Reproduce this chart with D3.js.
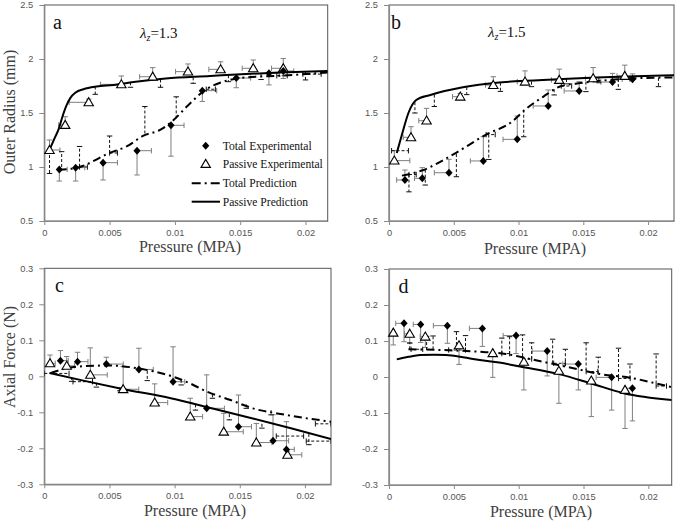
<!DOCTYPE html>
<html><head><meta charset="utf-8">
<script src="https://cdn.jsdelivr.net/npm/d3@7"></script>
<style>body{margin:0;background:#fff} svg{display:block}</style>
</head><body>
<svg id="chart" width="675" height="524"></svg>
<script>
// ---------------- tick labels ----------------
const xTickVals = [0, 0.005, 0.01, 0.015, 0.02];
const xTickLabels = ["0", "0.005", "0.01", "0.015", "0.02"];
const radiusTickVals = [0.5, 1, 1.5, 2, 2.5];
const radiusTickLabels = ["0.5", "1", "1.5", "2", "2.5"];
const forceTickVals = [-0.3, -0.2, -0.1, 0, 0.1, 0.2, 0.3];
const forceTickLabels = ["-0.3", "-0.2", "-0.1", "0", "0.1", "0.2", "0.3"];
const legendLabels = ["Total Experimental", "Passive Experimental", "Total Prediction", "Passive Prediction"];

// ---------------- panel a (outer radius, λz=1.3) ----------------
const aTotExpX = [0.00115, 0.0024, 0.0045, 0.0071, 0.0097, 0.0121, 0.0147, 0.0172, 0.0183];
const aTotExpY = [0.978, 0.994, 1.04, 1.151, 1.386, 1.707, 1.824, 1.867, 1.889];
const aTotExpErrY = [-0.108, -0.124, -0.16, -0.225, -0.286, -0.10, -0.09, -0.107, -0.07];
const aTotExpErrX = [0.0006, 0.0007, 0.0011, 0.0011, 0.001, 0.0011, 0.0011, 0.0008, 0.0008];
const aPasExpX = [0.0004, 0.0016, 0.0034, 0.0059, 0.0083, 0.011, 0.0135, 0.016, 0.0183];
const aPasExpY = [1.157, 1.389, 1.599, 1.765, 1.836, 1.883, 1.904, 1.914, 1.914];
const aPasExpErrY = [0.093, 0.077, 0.03, 0.078, 0.084, 0.071, 0.07, 0.077, 0.09];
const aPasExpErrX = [0.0008, -0.0005, -0.0015, -0.0016, -0.001, -0.00095, -0.0009, -0.00085, -0.0009];
const aTotPredX = [0.0011, 0.0027, 0.005, 0.0063, 0.0076, 0.0089, 0.0099, 0.011, 0.0124, 0.0137, 0.0155, 0.018, 0.0217];
const aTotPredY = [0.972, 1.0, 1.13, 1.19, 1.29, 1.345, 1.435, 1.57, 1.72, 1.79, 1.83, 1.845, 1.875];
const aPasPredX = [0.0004, 0.0008, 0.0011, 0.0014, 0.0017, 0.002, 0.0024, 0.003, 0.004, 0.0053, 0.007, 0.0093, 0.0127, 0.0147, 0.018, 0.0217];
const aPasPredY = [1.16, 1.27, 1.35, 1.47, 1.57, 1.64, 1.69, 1.72, 1.745, 1.76, 1.79, 1.82, 1.843, 1.857, 1.875, 1.89];
const aPredBarsV = [[0.0004, 1.157, 0.94], [0.00133, 1.0, 1.142], [0.0027, 1.003, 1.19], [0.005, 1.13, 1.287],
  [0.0077, 1.31, 1.56], [0.0101, 1.45, 1.65], [0.0039, 1.745, 1.673], [0.0066, 1.785, 1.738],
  [0.0089, 1.81, 1.738], [0.0114, 1.83, 1.775], [0.0141, 1.85, 1.79], [0.0166, 1.86, 1.81], [0.02, 1.88, 1.806]];
const aPredBarsH = [[1.0, 0.0027, 0.0033], [1.13, 0.005, 0.0056], [1.72, 0.0124, 0.0131], [1.845, 0.0178, 0.0186], [1.86, 0.0198, 0.0212]];

// ---------------- panel b (outer radius, λz=1.5) ----------------
const bTotExpX = [0.00123, 0.00257, 0.00463, 0.00728, 0.0099, 0.01229, 0.01468, 0.01725, 0.0188];
const bTotExpY = [0.88, 0.895, 0.947, 1.056, 1.256, 1.565, 1.704, 1.787, 1.812];
const bTotExpErrY = [0.092, 0.099, 0.124, 0.225, 0.216, 0.148, 0.086, 0.08, 0.05];
const bTotExpErrX = [-0.00064, -0.0006, -0.00113, -0.001, -0.0011, -0.00116, -0.00116, -0.0009, -0.0008];
const bPasExpX = [0.00041, 0.0017, 0.0029, 0.0055, 0.00805, 0.0105, 0.01314, 0.01576, 0.0182];
const bPasExpY = [1.059, 1.275, 1.429, 1.651, 1.759, 1.79, 1.806, 1.821, 1.843];
const bPasExpErrY = [0.092, 0.098, 0.114, 0.03, 0.077, 0.1, 0.1, 0.1, 0.1];
const bPasExpErrX = [0.0012, -0.0006, -0.0006, -0.0006, -0.0006, -0.0006, -0.0006, -0.0006, -0.0006];
const bTotPredX = [0.001, 0.0026, 0.005, 0.0075, 0.0095, 0.0105, 0.0119, 0.0133, 0.015, 0.018, 0.022];
const bTotPredY = [0.92, 0.97, 1.12, 1.3, 1.42, 1.53, 1.65, 1.75, 1.78, 1.815, 1.83];
const bPasPredX = [0.0006, 0.001, 0.0015, 0.0021, 0.0032, 0.0057, 0.0083, 0.0101, 0.0134, 0.016, 0.019, 0.022];
const bPasPredY = [1.13, 1.3, 1.5, 1.62, 1.667, 1.738, 1.781, 1.796, 1.815, 1.828, 1.84, 1.85];
const bPredBarsV = [[0.00154, 0.93, 0.77], [0.0028, 0.975, 0.833], [0.0052, 1.12, 0.91], [0.0077, 1.3, 1.07],
  [0.0104, 1.53, 1.28], [0.01275, 1.72, 1.667], [0.0152, 1.79, 1.698], [0.0177, 1.815, 1.719], [0.0208, 1.825, 1.744],
  [0.002, 1.6, 1.5], [0.0035, 1.67, 1.56], [0.006, 1.74, 1.67], [0.0086, 1.78, 1.7], [0.011, 1.79, 1.744],
  [0.0137, 1.815, 1.77], [0.0162, 1.828, 1.78]];
const bPredBarsH = [[1.151, 0.0002, 0.0015], [0.93, 0.00154, 0.0021], [1.3, 0.0075, 0.0082], [1.75, 0.0133, 0.0141], [1.815, 0.0177, 0.0186]];

// ---------------- panel c (axial force, λz=1.3) ----------------
const cTotExpX = [0.00124, 0.00255, 0.00476, 0.00726, 0.00988, 0.01246, 0.0149, 0.01755, 0.01858];
const cTotExpY = [0.0435, 0.0407, 0.034, 0.019, -0.015, -0.089, -0.14, -0.179, -0.203];
const cTotExpErrY = [0.028, 0.026, 0.019, 0.059, 0.097, 0.093, 0.088, 0.072, 0.077];
const cTotExpErrX = [0.0006, 0.0008, 0.0013, 0.0011, 0.0009, 0.00136, 0.001, 0.0012, 0.0006];
const cPasExpX = [0.00044, 0.00172, 0.00353, 0.00605, 0.00847, 0.0112, 0.01377, 0.01627, 0.01866];
const cPasExpY = [0.036, 0.029, 0.004, -0.036, -0.073, -0.112, -0.154, -0.184, -0.218];
const cPasExpErrY = [0.023, 0.026, 0.075, 0.063, 0.052, 0.051, 0.051, 0.053, 0.01];
const cPasExpErrX = [0.0004, 0.0006, 0.0013, 0.0012, 0.001, 0.00095, 0.0015, 0.0012, 0.0011];
const cTotPredX = [0.0005, 0.0025, 0.005, 0.0075, 0.0098, 0.0112, 0.0125, 0.0143, 0.016, 0.0185, 0.022];
const cTotPredY = [0.009, 0.027, 0.03, 0.02, 0.0, -0.02, -0.043, -0.066, -0.089, -0.107, -0.126];
const cPasPredX = [0.0004, 0.003, 0.006, 0.0097, 0.013, 0.016, 0.019, 0.022];
const cPasPredY = [0.009, -0.012, -0.035, -0.061, -0.09, -0.117, -0.145, -0.174];
const cPredBarsV = [[0.0021, -0.002, -0.014], [0.004, -0.018, -0.03], [0.0058, -0.03, -0.04], [0.0079, 0.015, -0.012],
  [0.0105, -0.01, -0.024], [0.0116, -0.078, -0.094], [0.0129, -0.05, -0.061], [0.0142, -0.105, -0.121],
  [0.0155, -0.078, -0.089], [0.0167, -0.132, -0.144], [0.0174, -0.094, -0.107], [0.0203, -0.16, -0.19]];
const cPredBarsH = [[0.008, 0.0, 0.0019], [-0.015, 0.0022, 0.0037], [-0.166, 0.0178, 0.0199], [-0.132, 0.0208, 0.022], [-0.18, 0.0201, 0.022]];

// ---------------- panel d (axial force, λz=1.5) ----------------
const dTotExpX = [0.00116, 0.00244, 0.0045, 0.0072, 0.0098, 0.0122, 0.0146, 0.01717, 0.01877];
const dTotExpY = [0.149, 0.146, 0.1426, 0.135, 0.115, 0.072, 0.036, -0.001, -0.031];
const dTotExpErrY = [-0.051, -0.05, -0.049, -0.05, -0.05, -0.069, -0.072, -0.091, -0.091];
const dTotExpErrX = [-0.00064, -0.00057, -0.00108, -0.001, -0.001, -0.00116, -0.0012, -0.0012, -0.0006];
const dPasExpX = [0.00033, 0.0016, 0.0028, 0.0054, 0.008, 0.0104, 0.0131, 0.0156, 0.0182];
const dPasExpY = [0.123, 0.12, 0.112, 0.088, 0.066, 0.042, 0.017, -0.01, -0.036];
const dPasExpErrY = [-0.034, -0.027, -0.03, -0.053, -0.067, -0.078, -0.09, -0.1, -0.107];
const dPasExpErrX = [0, -0.0004, -0.0004, 0, 0, 0, 0, 0, 0];
const dTotPredX = [0.0015, 0.004, 0.007, 0.009, 0.011, 0.0127, 0.0145, 0.0163, 0.0186, 0.0206, 0.0218];
const dTotPredY = [0.077, 0.075, 0.07, 0.064, 0.049, 0.036, 0.022, 0.008, -0.002, -0.018, -0.028];
const dPasPredX = [0.0006, 0.0015, 0.0024, 0.0035, 0.0044, 0.0057, 0.007, 0.0085, 0.0101, 0.0131, 0.0156, 0.0181, 0.0218];
const dPasPredY = [0.049, 0.056, 0.061, 0.062, 0.061, 0.055, 0.047, 0.04, 0.029, 0.008, -0.018, -0.045, -0.064];
const dPredBarsV = [[0.0016, 0.077, 0.095], [0.0029, 0.075, 0.113], [0.0034, 0.077, 0.114], [0.0052, 0.075, 0.126],
  [0.0059, 0.072, 0.115], [0.0087, 0.065, 0.108], [0.0093, 0.063, 0.112], [0.0103, 0.058, 0.117], [0.011, 0.05, 0.095],
  [0.01262, 0.038, 0.105], [0.0136, 0.03, 0.077], [0.0152, 0.018, 0.095], [0.01614, 0.01, 0.055],
  [0.0177, 0.0, 0.08], [0.01858, -0.004, 0.036], [0.0206, -0.018, 0.064]];
const dPredBarsH = [[0.077, 0.0017, 0.0026], [0.075, 0.0046, 0.0059], [0.065, 0.0087, 0.0093], [0.05, 0.0103, 0.011],
  [0.038, 0.0127, 0.0136], [0.015, 0.0152, 0.0161], [-0.004, 0.0177, 0.0186], [-0.025, 0.0206, 0.0214]];

// ---------------- layout ----------------
const serif = "'Liberation Serif','Times New Roman',serif";
const sans = "'Liberation Sans',Arial,sans-serif";
const zip = (xs, ys) => xs.map((v, i) => [v, ys[i]]);

const panels = [
  {id: "a", left: 44.3, right: 327.7, top: 5, bottom: 221, xMax: 0.0217, yDom: [0.5, 2.5], yT: radiusTickVals, yL: radiusTickLabels,
   totX: aTotExpX, totY: aTotExpY, totEY: aTotExpErrY, totEX: aTotExpErrX, pasX: aPasExpX, pasY: aPasExpY, pasEY: aPasExpErrY, pasEX: aPasExpErrX,
   tp: zip(aTotPredX, aTotPredY), pp: zip(aPasPredX, aPasPredY), bv: aPredBarsV, bh: aPredBarsH,
   letter: [53, 29], lam: [140, 38, "1.3"], xTitle: [190, 252], yTitle: [14.5, 112, "Outer Radius (mm)"]},
  {id: "b", left: 389, right: 674, top: 5, bottom: 221, xMax: 0.022, yDom: [0.5, 2.5], yT: radiusTickVals, yL: radiusTickLabels,
   totX: bTotExpX, totY: bTotExpY, totEY: bTotExpErrY, totEX: bTotExpErrX, pasX: bPasExpX, pasY: bPasExpY, pasEY: bPasExpErrY, pasEX: bPasExpErrX,
   tp: zip(bTotPredX, bTotPredY), pp: zip(bPasPredX, bPasPredY), bv: bPredBarsV, bh: bPredBarsH,
   letter: [391, 28.5], lam: [488, 36.5, "1.5"], xTitle: [535, 253.5], yTitle: null},
  {id: "c", left: 44.3, right: 331, top: 268.3, bottom: 484.3, xMax: 0.022, yDom: [-0.3, 0.3], yT: forceTickVals, yL: forceTickLabels,
   totX: cTotExpX, totY: cTotExpY, totEY: cTotExpErrY, totEX: cTotExpErrX, pasX: cPasExpX, pasY: cPasExpY, pasEY: cPasExpErrY, pasEX: cPasExpErrX,
   tp: zip(cTotPredX, cTotPredY), pp: zip(cPasPredX, cPasPredY), bv: cPredBarsV, bh: cPredBarsH,
   letter: [55, 291.5], lam: null, xTitle: [195, 516], yTitle: [14.5, 357, "Axial Force (N)"]},
  {id: "d", left: 389, right: 671.7, top: 269, bottom: 485, xMax: 0.0218, yDom: [-0.3, 0.3], yT: forceTickVals, yL: forceTickLabels,
   totX: dTotExpX, totY: dTotExpY, totEY: dTotExpErrY, totEX: dTotExpErrX, pasX: dPasExpX, pasY: dPasExpY, pasEY: dPasExpErrY, pasEX: dPasExpErrX,
   tp: zip(dTotPredX, dTotPredY), pp: zip(dPasPredX, dPasPredY), bv: dPredBarsV, bh: dPredBarsH,
   letter: [398.5, 293], lam: null, xTitle: [541, 517], yTitle: null}
];

const svg = d3.select("#chart");
const defs = svg.append("defs");
const diamondPath = "M0,-4L3.6,0L0,4L-3.6,0Z";
const trianglePath = "M0,-4.6L4.7,3.4L-4.7,3.4Z";
const errCol = "#7f7f7f";
const CAP = 2.7;

function drawPanel(p) {
  const x = d3.scaleLinear().domain([0, p.xMax]).range([p.left, p.right]);
  const y = d3.scaleLinear().domain(p.yDom).range([p.bottom, p.top]);
  const g = svg.append("g");
  defs.append("clipPath").attr("id", "clip-" + p.id).append("rect")
    .attr("x", p.left).attr("y", p.top).attr("width", p.right - p.left).attr("height", p.bottom - p.top);

  // frame
  g.append("rect").attr("x", p.left).attr("y", p.top).attr("width", p.right - p.left).attr("height", p.bottom - p.top)
    .attr("fill", "none").attr("stroke", "#555").attr("stroke-width", 1);

  // axes
  const xa = d3.axisBottom(x).tickValues(xTickVals).tickFormat((d, i) => xTickLabels[i]).tickSize(4).tickSizeOuter(0).tickPadding(4);
  const ya = d3.axisLeft(y).tickValues(p.yT).tickFormat((d, i) => p.yL[i]).tickSize(5).tickSizeOuter(0).tickPadding(6);
  const gx = g.append("g").attr("transform", `translate(0,${p.bottom})`).call(xa);
  const gy = g.append("g").attr("transform", `translate(${p.left},0)`).call(ya);
  [gx, gy].forEach(a => {
    a.select(".domain").attr("stroke", "#8a8a8a").attr("stroke-width", 1.2);
    a.selectAll(".tick line").attr("stroke", "#8a8a8a");
    a.selectAll(".tick text").attr("fill", "#555").style("font-family", sans).style("font-size", "9.3px");
  });

  const plot = g.append("g").attr("clip-path", `url(#clip-${p.id})`);

  // experimental error bars (gray)
  function expBars(xs, ys, ex, ey) {
    const pts = xs.map((v, i) => ({x: v, y: ys[i], ex: ex[i], ey: ey[i]}));
    const eg = plot.append("g").attr("stroke", errCol).attr("stroke-width", 1).attr("fill", "none");
    const vy = pts.filter(d => d.ey);
    eg.selectAll(null).data(vy).join("line")
      .attr("x1", d => x(d.x)).attr("x2", d => x(d.x)).attr("y1", d => y(d.y)).attr("y2", d => y(d.y + d.ey));
    eg.selectAll(null).data(vy).join("line")
      .attr("x1", d => x(d.x) - CAP).attr("x2", d => x(d.x) + CAP).attr("y1", d => y(d.y + d.ey)).attr("y2", d => y(d.y + d.ey));
    const hx = pts.filter(d => d.ex);
    eg.selectAll(null).data(hx).join("line")
      .attr("x1", d => x(d.x)).attr("x2", d => x(d.x + d.ex)).attr("y1", d => y(d.y)).attr("y2", d => y(d.y));
    eg.selectAll(null).data(hx).join("line")
      .attr("x1", d => x(d.x + d.ex)).attr("x2", d => x(d.x + d.ex)).attr("y1", d => y(d.y) - CAP).attr("y2", d => y(d.y) + CAP);
  }
  expBars(p.totX, p.totY, p.totEX, p.totEY);
  expBars(p.pasX, p.pasY, p.pasEX, p.pasEY);

  // prediction error bars (black dashed)
  const pg = plot.append("g").attr("stroke", "#111").attr("stroke-width", 1).attr("fill", "none");
  pg.selectAll(null).data(p.bv).join("line").attr("stroke-dasharray", "3,2")
    .attr("x1", d => x(d[0])).attr("x2", d => x(d[0])).attr("y1", d => y(d[1])).attr("y2", d => y(d[2]));
  pg.selectAll(null).data(p.bv).join("line")
    .attr("x1", d => x(d[0]) - CAP).attr("x2", d => x(d[0]) + CAP).attr("y1", d => y(d[2])).attr("y2", d => y(d[2]));
  pg.selectAll(null).data(p.bh).join("line").attr("stroke-dasharray", "3,2")
    .attr("x1", d => x(d[1])).attr("x2", d => x(d[2])).attr("y1", d => y(d[0])).attr("y2", d => y(d[0]));
  pg.selectAll(null).data(p.bh.flatMap(d => [[d[0], d[1]], [d[0], d[2]]])).join("line")
    .attr("x1", d => x(d[1])).attr("x2", d => x(d[1])).attr("y1", d => y(d[0]) - CAP).attr("y2", d => y(d[0]) + CAP);

  // prediction lines
  const line = d3.line().x(d => x(d[0])).y(d => y(d[1])).curve(d3.curveMonotoneX);
  plot.append("path").datum(p.tp).attr("d", line).attr("fill", "none").attr("stroke", "#000")
    .attr("stroke-width", 2).attr("stroke-dasharray", "8,4,2,4");
  plot.append("path").datum(p.pp).attr("d", line).attr("fill", "none").attr("stroke", "#000").attr("stroke-width", 2);

  // markers
  g.append("g").selectAll(null).data(zip(p.pasX, p.pasY)).join("path")
    .attr("d", trianglePath).attr("transform", d => `translate(${x(d[0])},${y(d[1])})`)
    .attr("fill", "#fff").attr("stroke", "#000").attr("stroke-width", 1.1);
  g.append("g").selectAll(null).data(zip(p.totX, p.totY)).join("path")
    .attr("d", diamondPath).attr("transform", d => `translate(${x(d[0])},${y(d[1])})`).attr("fill", "#000");

  // texts
  g.append("text").attr("x", p.letter[0]).attr("y", p.letter[1]).text(p.id)
    .style("font-family", serif).style("font-size", "20px").attr("fill", "#111");
  if (p.lam) {
    const t = g.append("text").attr("x", p.lam[0]).attr("y", p.lam[1]).style("font-family", serif).style("font-size", "15px").attr("fill", "#111");
    t.append("tspan").text("λ").style("font-style", "italic");
    t.append("tspan").text("z").style("font-style", "italic").style("font-size", "10px").attr("dy", 3);
    t.append("tspan").text("=" + p.lam[2]).attr("dy", -3);
  }
  g.append("text").attr("x", p.xTitle[0]).attr("y", p.xTitle[1]).attr("text-anchor", "middle")
    .style("font-family", serif).style("font-size", "16px").attr("fill", "#404040").text("Pressure (MPA)");
  if (p.yTitle) {
    g.append("text").attr("transform", `translate(${p.yTitle[0]},${p.yTitle[1]}) rotate(-90)`).attr("text-anchor", "middle")
      .style("font-family", serif).style("font-size", "16px").attr("fill", "#404040").text(p.yTitle[2]);
  }
}
panels.forEach(drawPanel);

// legend (panel a)
const lg = svg.append("g");
const lx = 205.7, rows = [145.7, 164, 183.3, 201.7];
lg.append("path").attr("d", diamondPath).attr("transform", `translate(${lx},${rows[0]})`).attr("fill", "#000");
lg.append("path").attr("d", trianglePath).attr("transform", `translate(${lx},${rows[1]})`).attr("fill", "#fff").attr("stroke", "#000").attr("stroke-width", 1.1);
lg.append("line").attr("x1", 191.7).attr("x2", 220).attr("y1", rows[2]).attr("y2", rows[2]).attr("stroke", "#000").attr("stroke-width", 2).attr("stroke-dasharray", "9,4,2,4");
lg.append("line").attr("x1", 191.7).attr("x2", 220).attr("y1", rows[3]).attr("y2", rows[3]).attr("stroke", "#000").attr("stroke-width", 2);
lg.selectAll(null).data(legendLabels).join("text")
  .attr("x", 222.7).attr("y", (d, i) => rows[i] + 4).text(d => d)
  .style("font-family", serif).style("font-size", "11.6px").attr("fill", "#111");
</script></body></html>
